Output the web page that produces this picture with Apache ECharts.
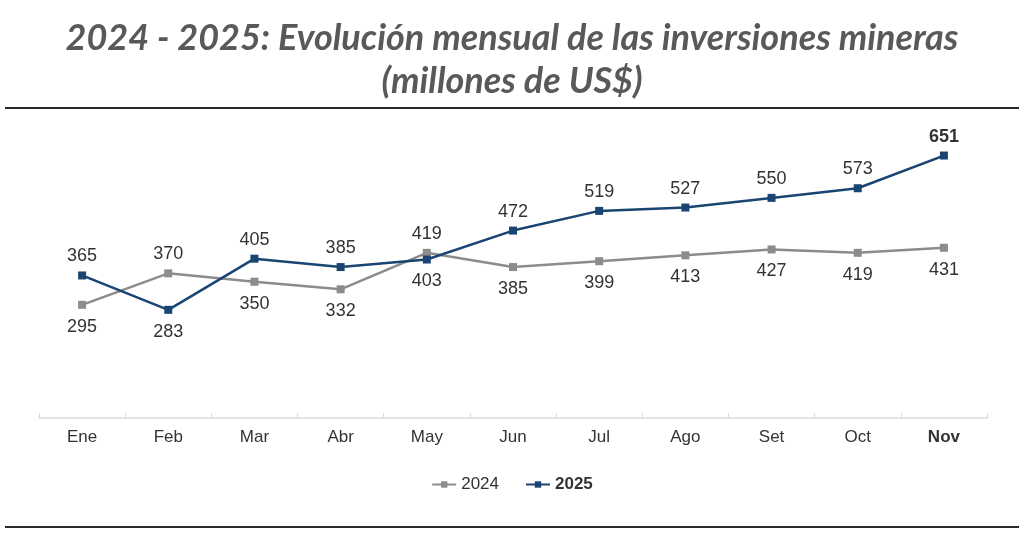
<!DOCTYPE html>
<html>
<head>
<meta charset="utf-8">
<script src="https://cdn.jsdelivr.net/npm/echarts@6/dist/echarts.min.js"></script>
<style>
  html, body { margin: 0; padding: 0; background: #fff; }
  #chart { width: 1024px; height: 536px; }
</style>
</head>
<body>
<div id="chart"></div>
<script>
var months = ['Ene', 'Feb', 'Mar', 'Abr', 'May', 'Jun', 'Jul', 'Ago', 'Set', 'Oct', 'Nov'];
var inv2024 = [295, 370, 350, 332, 419, 385, 399, 413, 427, 419, 431];
var inv2025 = [365, 283, 405, 385, 403, 472, 519, 527, 550, 573, 651];

var narrow = '"Liberation Sans", Arial, sans-serif';
var myChart = echarts.init(document.getElementById('chart'));

// etiqueta arriba para la serie mas alta, abajo para la otra
function buildData(vals, other, lastBold) {
  return vals.map(function (v, i) {
    var up = v > other[i];
    var item = {
      value: v,
      label: { position: up ? 'top' : 'bottom', distance: up ? 6 : 9 }
    };
    if (lastBold && i === vals.length - 1) item.label.fontWeight = 'bold';
    return item;
  });
}

var option = {
  backgroundColor: '#fff',
  animation: false,
  title: {
    text: '2024 - 2025: Evolución mensual de las inversiones mineras\n(millones de US$)',
    left: 'center',
    top: 12,
    textStyle: {
      fontFamily: 'Lato, sans-serif',
      fontStyle: 'italic',
      fontWeight: 'bold',
      fontSize: 36,
      lineHeight: 43,
      color: '#595959'
    }
  },
  graphic: [
    { type: 'rect', shape: { x: 5, y: 107, width: 1014, height: 2 }, style: { fill: '#2b2b2b' } },
    { type: 'rect', shape: { x: 5, y: 526, width: 1014, height: 2 }, style: { fill: '#2b2b2b' } }
  ],
  legend: {
    top: 471,
    left: 'center',
    itemWidth: 24,
    itemHeight: 8,
    itemGap: 26,
    textStyle: { fontFamily: narrow, fontSize: 17, color: '#333' },
    data: [
      { name: '2024' },
      { name: '2025', textStyle: { fontWeight: 'bold' } }
    ]
  },
  grid: { left: 39, right: 37, top: 135, bottom: 118 },
  xAxis: {
    type: 'category',
    boundaryGap: true,
    data: months.map(function (m, i) {
      return i === months.length - 1 ? { value: m, textStyle: { fontWeight: 'bold' } } : m;
    }),
    axisLine: { lineStyle: { color: '#d9d9d9', width: 1.5 } },
    axisTick: { show: true, inside: true, length: 5, lineStyle: { color: '#d9d9d9' } },
    axisLabel: { fontFamily: narrow, fontSize: 17, color: '#333', margin: 11 }
  },
  yAxis: {
    type: 'value',
    min: 25,
    max: 700,
    show: false,
    splitLine: { show: false }
  },
  series: [
    {
      name: '2024',
      type: 'line',
      data: buildData(inv2024, inv2025, false),
      symbol: 'rect',
      symbolSize: 8,
      lineStyle: { color: '#8c8c8c', width: 2.5 },
      itemStyle: { color: '#8c8c8c' },
      label: { show: true, fontFamily: narrow, fontSize: 18, color: '#333' }
    },
    {
      name: '2025',
      type: 'line',
      data: buildData(inv2025, inv2024, true),
      symbol: 'rect',
      symbolSize: 8,
      lineStyle: { color: '#1a4472', width: 2.5 },
      itemStyle: { color: '#1a4472' },
      label: { show: true, fontFamily: narrow, fontSize: 18, color: '#333' }
    }
  ]
};
myChart.setOption(option);
</script>
</body>
</html>
